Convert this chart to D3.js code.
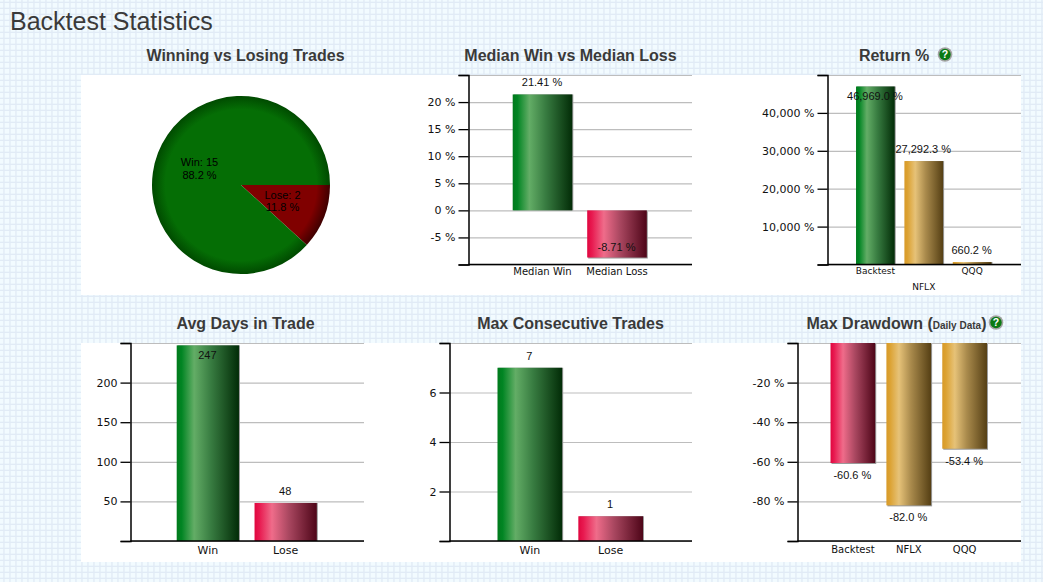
<!DOCTYPE html>
<html>
<head>
<meta charset="utf-8">
<title>Backtest Statistics</title>
<script src="https://cdn.jsdelivr.net/npm/d3@7"></script>
<style>
  html, body { margin: 0; padding: 0; background: #f2fbff; overflow: hidden; }
  svg { display: block; }
  .heading { font-family: "Liberation Sans", sans-serif; font-size: 25px; fill: #3a3a3a; }
  .title { font-family: "Liberation Sans", sans-serif; font-size: 16px; font-weight: bold; fill: #3a3a3a; text-anchor: middle; }
  .tick text { font-family: "DejaVu Sans", sans-serif; font-size: 11px; fill: #111; }
  .value { font-family: "Liberation Sans", sans-serif; font-size: 11px; fill: #111; text-anchor: middle; }
</style>
</head>
<body>
<svg width="1043" height="582"></svg>
<script>
const width = 1043;
const height = 582;

// Pie: Winning vs Losing Trades
const pieCategories = ["Lose", "Win"];
const pieValues = [2, 15];
const pieShares = ["11.8 %", "88.2 %"];

// Median Win vs Median Loss
const medianCategories = ["Median Win", "Median Loss"];
const medianValues = [21.41, -8.71];
const medianTicks = [-10, -5, 0, 5, 10, 15, 20, 25];

// Return %
const returnCategories = ["Backtest", "NFLX", "QQQ"];
const returnValues = [46969.0, 27292.3, 660.2];
const returnTicks = [0, 10000, 20000, 30000, 40000, 50000];

// Avg Days in Trade
const daysCategories = ["Win", "Lose"];
const daysValues = [247, 48];
const daysTicks = [0, 50, 100, 150, 200, 250];

// Max Consecutive Trades
const streakCategories = ["Win", "Lose"];
const streakValues = [7, 1];
const streakTicks = [0, 2, 4, 6, 8];

// Max Drawdown
const drawdownCategories = ["Backtest", "NFLX", "QQQ"];
const drawdownValues = [-60.6, -82.0, -53.4];
const drawdownTicks = [-100, -80, -60, -40, -20, 0];

const svg = d3.select("svg");
const defs = svg.append("defs");

// page background grid
const pattern = defs.append("pattern")
  .attr("id", "grid")
  .attr("width", 6)
  .attr("height", 6)
  .attr("patternUnits", "userSpaceOnUse");
pattern.append("rect").attr("width", 6).attr("height", 6).attr("fill", "#f2fbff");
pattern.append("rect").attr("x", 3.3).attr("width", 1.3).attr("height", 6).attr("fill", "#e1ebf6");
pattern.append("rect").attr("y", 1.7).attr("width", 6).attr("height", 1.3).attr("fill", "#e1ebf6");
svg.append("rect").attr("width", width).attr("height", height).attr("fill", "url(#grid)");

// white strips behind the two rows
svg.append("rect").attr("x", 81).attr("y", 75).attr("width", 940).attr("height", 220).attr("fill", "#fff");
svg.append("rect").attr("x", 81).attr("y", 343).attr("width", 940).attr("height", 219).attr("fill", "#fff");

// bar shading
function barGradient(id, stops) {
  const g = defs.append("linearGradient").attr("id", id);
  stops.forEach(s => g.append("stop").attr("offset", s[0]).attr("stop-color", s[1]));
}
barGradient("green", [[0, "#007a1c"], [0.08, "#018523"], [0.28, "#63ad66"], [0.55, "#387c41"], [1, "#022c07"]]);
barGradient("red", [[0, "#e0063f"], [0.08, "#e81a50"], [0.28, "#ef6c8a"], [0.55, "#a94760"], [1, "#4e0518"]]);
barGradient("gold", [[0, "#d89a28"], [0.08, "#dca232"], [0.28, "#e6c278"], [0.55, "#a98a4c"], [1, "#553f14"]]);

const pctFormat = d => `${d} %`;
const commaPct = d => `${d3.format(",")(d)} %`;

function barChart(o) {
  const x = d3.scaleBand()
    .domain(o.categories)
    .range([o.left - 0.5, o.right - 0.5])
    .paddingInner(0.2)
    .paddingOuter(0.6);
  const y = d3.scaleLinear()
    .domain(d3.extent(o.ticks))
    .range([o.bottom, o.top]);
  const ends = y.domain();
  const g = svg.append("g");

  // gray grid lines
  g.append("g")
    .attr("transform", `translate(${o.left},0)`)
    .call(d3.axisLeft(y).tickValues(o.ticks).tickSize(-(o.right - o.left)).tickFormat(""))
    .call(s => s.select(".domain").remove())
    .selectAll("line")
    .attr("stroke", "#bdbdbd")
    .attr("stroke-width", 1.2);

  const zero = y(o.base);
  const bars = g.selectAll(".bar")
    .data(o.values)
    .enter()
    .append("g");

  // thin gray shadow on the right and far edge of every bar
  bars.append("rect")
    .attr("x", (d, i) => x(o.categories[i]) + 1)
    .attr("y", d => Math.min(y(d), zero) + (d < 0 ? 1 : 0))
    .attr("width", x.bandwidth())
    .attr("height", d => Math.abs(y(d) - zero))
    .attr("fill", "#999");
  bars.append("rect")
    .attr("x", (d, i) => x(o.categories[i]))
    .attr("y", d => Math.min(y(d), zero))
    .attr("width", x.bandwidth())
    .attr("height", d => Math.abs(y(d) - zero))
    .attr("fill", (d, i) => `url(#${o.colors[i]})`);

  // left axis, black
  const left = g.append("g")
    .attr("transform", `translate(${o.left},0)`)
    .call(d3.axisLeft(y).tickValues(o.ticks).tickSize(10).tickPadding(3)
      .tickFormat(d => ends.includes(d) ? "" : o.format(d)));
  left.selectAll("line").attr("stroke", "#000").attr("stroke-width", 1.3);
  left.select(".domain").attr("stroke", "#000").attr("stroke-width", 1.5);

  // baseline at the bottom of the plot
  g.append("line")
    .attr("x1", o.left)
    .attr("x2", o.right)
    .attr("y1", o.bottom)
    .attr("y2", o.bottom)
    .attr("stroke", "#000")
    .attr("stroke-width", 1.5);

  // category labels
  const bottom = g.append("g")
    .attr("transform", `translate(0,${o.bottom})`)
    .call(d3.axisBottom(x).tickSize(0).tickPadding(o.labelPad));
  bottom.select(".domain").remove();
  bottom.selectAll("text")
    .style("font-size", o.labelSize + "px")
    .attr("dy", (d, i) => o.stagger && i === 1 ? "2.5em" : "0.71em");

  // values go outside the bar unless that leaves the plot
  g.selectAll(".value")
    .data(o.values)
    .enter()
    .append("text")
    .attr("class", "value")
    .attr("x", (d, i) => x(o.categories[i]) + x.bandwidth() / 2 - 0.5)
    .attr("y", d => {
      const dir = d < 0 ? 1 : -1;
      const outer = y(d) + dir * 12;
      const pos = outer < o.top + 2 || outer > o.bottom - 2 ? y(d) - dir * 10 : outer;
      return pos;
    })
    .attr("dy", "0.35em")
    .text(o.valueText);
}

function helpIcon(cx, cy) {
  const g = svg.append("g").attr("transform", `translate(${cx},${cy})`);
  g.append("circle").attr("r", 7.3).attr("fill", "#a3a3a3");
  g.append("circle").attr("r", 5.7).attr("fill", "#0a7a12");
  g.append("text")
    .attr("text-anchor", "middle")
    .attr("dy", "0.36em")
    .attr("font-family", "Liberation Sans, sans-serif")
    .attr("font-weight", "bold")
    .attr("font-size", 10.5)
    .attr("fill", "#fff")
    .text("?");
}

function title(x, y, text) {
  return svg.append("text")
    .attr("class", "title")
    .attr("x", x)
    .attr("y", y)
    .attr("dy", "0.35em")
    .text(text);
}

svg.append("text")
  .attr("class", "heading")
  .attr("x", 10)
  .attr("y", 29.5)
  .text("Backtest Statistics");

title(245.5, 55, "Winning vs Losing Trades");
title(570.5, 55, "Median Win vs Median Loss");
title(894, 55, "Return %");
helpIcon(945, 54.5);
title(245.5, 323, "Avg Days in Trade");
title(570.5, 323, "Max Consecutive Trades");
const drawdownTitle = title(896.5, 323, "Max Drawdown (");
drawdownTitle.append("tspan").attr("font-size", 10).text("Daily Data");
drawdownTitle.append("tspan").text(")");
helpIcon(996, 322.5);

// Pie
const pieX = 241;
const pieY = 185;
const pieR = 89;
const pieGrads = [["pieLose", "#800000", "#400000"], ["pieWin", "#056e05", "#004a00"]];
pieGrads.forEach(p => {
  const g = defs.append("radialGradient")
    .attr("id", p[0])
    .attr("gradientUnits", "userSpaceOnUse")
    .attr("cx", 0)
    .attr("cy", 0)
    .attr("r", pieR);
  g.append("stop").attr("offset", 0.85).attr("stop-color", p[1]);
  g.append("stop").attr("offset", 1).attr("stop-color", p[2]);
});

const pie = d3.pie()
  .sort(null)
  .startAngle(Math.PI / 2)
  .endAngle(Math.PI / 2 + 2 * Math.PI);
const arc = d3.arc().innerRadius(0).outerRadius(pieR);
const pieGroup = svg.append("g").attr("transform", `translate(${pieX},${pieY})`);
const slices = pie(pieValues);

pieGroup.selectAll("path")
  .data(slices)
  .enter()
  .append("path")
  .attr("d", arc)
  .attr("fill", (d, i) => `url(#${pieGrads[i][0]})`);

const pieLabels = pieGroup.selectAll(".value")
  .data(slices)
  .enter()
  .append("text")
  .attr("class", "value")
  .attr("transform", d => `translate(${arc.centroid(d)})`)
  .style("fill", "#000");
pieLabels.append("tspan")
  .attr("x", 0)
  .attr("y", -2.5)
  .text((d, i) => `${pieCategories[i]}: ${pieValues[i]}`);
pieLabels.append("tspan")
  .attr("x", 0)
  .attr("y", 10)
  .text((d, i) => pieShares[i]);

barChart({
  categories: medianCategories, values: medianValues, ticks: medianTicks, base: 0,
  left: 468.5, right: 692, top: 75, bottom: 264.5,
  colors: ["green", "red"], format: pctFormat, labelSize: 10, labelPad: 3,
  valueText: d => `${d.toFixed(2)} %`
});

barChart({
  categories: returnCategories, values: returnValues, ticks: returnTicks, base: 0,
  left: 827.5, right: 1021, top: 75, bottom: 264.5, stagger: true,
  colors: ["green", "gold", "gold"], format: commaPct, labelSize: 9, labelPad: 3,
  valueText: d => `${d3.format(",.1f")(d)} %`
});

barChart({
  categories: daysCategories, values: daysValues, ticks: daysTicks, base: 0,
  left: 130.5, right: 364, top: 343, bottom: 541,
  colors: ["green", "red"], format: d => d, labelSize: 11, labelPad: 5,
  valueText: d => d
});

barChart({
  categories: streakCategories, values: streakValues, ticks: streakTicks, base: 0,
  left: 449.5, right: 692, top: 343, bottom: 541,
  colors: ["green", "red"], format: d => d, labelSize: 11, labelPad: 5,
  valueText: d => d
});

barChart({
  categories: drawdownCategories, values: drawdownValues, ticks: drawdownTicks, base: 0,
  left: 797.5, right: 1021, top: 343, bottom: 541,
  colors: ["red", "gold", "gold"], format: pctFormat, labelSize: 10, labelPad: 5,
  valueText: d => `${d.toFixed(1)} %`
});
</script>
</body>
</html>
